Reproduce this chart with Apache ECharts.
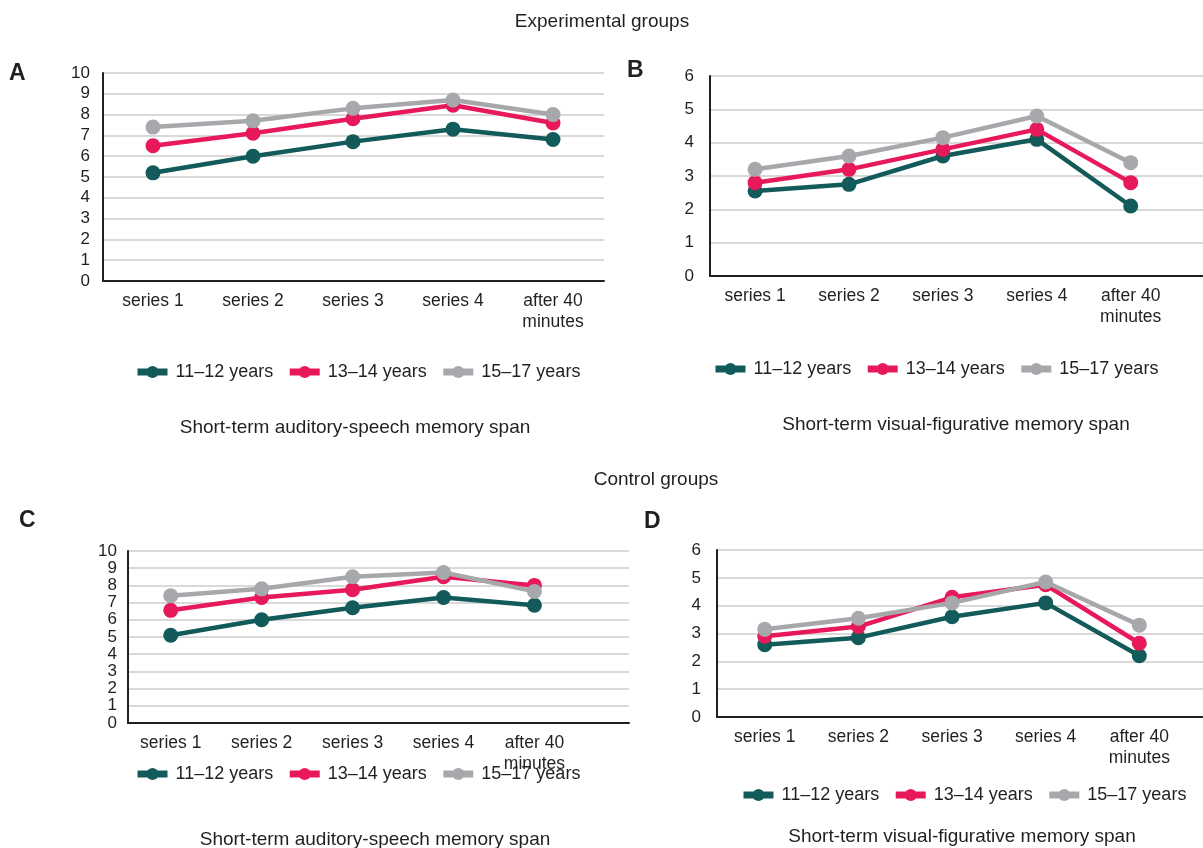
<!DOCTYPE html>
<html>
<head>
<meta charset="utf-8">
<script src="https://cdn.jsdelivr.net/npm/echarts@6/dist/echarts.min.js"></script>
<style>
  html, body { margin: 0; padding: 0; background: #fff; }
  #chart { width: 1203px; height: 848px; }
</style>
</head>
<body>
<div id="chart"></div>
<script>
// categories and groups
const categories = ['series 1', 'series 2', 'series 3', 'series 4', 'after 40\nminutes'];
const groups = ['11–12 years', '13–14 years', '15–17 years'];
const colors = ['#135a5a', '#e8195a', '#a7a8ab'];

// A: experimental, auditory-speech
const expAuditory1112 = [5.2, 6.0, 6.7, 7.3, 6.8];
const expAuditory1314 = [6.5, 7.1, 7.8, 8.45, 7.6];
const expAuditory1517 = [7.4, 7.7, 8.3, 8.7, 8.0];
// B: experimental, visual-figurative
const expVisual1112 = [2.55, 2.75, 3.6, 4.1, 2.1];
const expVisual1314 = [2.8, 3.2, 3.8, 4.4, 2.8];
const expVisual1517 = [3.2, 3.6, 4.15, 4.8, 3.4];
// C: control, auditory-speech
const ctrlAuditory1112 = [5.1, 6.0, 6.7, 7.3, 6.85];
const ctrlAuditory1314 = [6.55, 7.3, 7.75, 8.5, 8.0];
const ctrlAuditory1517 = [7.4, 7.8, 8.5, 8.75, 7.65];
// D: control, visual-figurative
const ctrlVisual1112 = [2.6, 2.85, 3.6, 4.1, 2.2];
const ctrlVisual1314 = [2.9, 3.25, 4.3, 4.75, 2.65];
const ctrlVisual1517 = [3.15, 3.55, 4.1, 4.85, 3.3];

const yMaxAuditory = 10;
const yMaxVisual = 6;

const FONT = '"Liberation Sans", Arial, sans-serif';
const TXT = '#231f20';

// x is a value axis so the gridlines can run past the last category
const panels = [
  { grid: { left: 103, top: 73, width: 501, height: 208 }, xmin: -0.5, xmax: 4.51, ymax: yMaxAuditory,
    data: [expAuditory1112, expAuditory1314, expAuditory1517], legendTop: 358, legendLeft: 129, yMargin: 13 },
  { grid: { left: 710, top: 76, width: 493, height: 200 }, xmin: -0.48, xmax: 4.77, ymax: yMaxVisual,
    data: [expVisual1112, expVisual1314, expVisual1517], legendTop: 355, legendLeft: 707, yMargin: 16 },
  { grid: { left: 128, top: 551, width: 501, height: 172 }, xmin: -0.47, xmax: 5.04, ymax: yMaxAuditory,
    data: [ctrlAuditory1112, ctrlAuditory1314, ctrlAuditory1517], legendTop: 760, legendLeft: 129, yMargin: 11 },
  { grid: { left: 717, top: 550, width: 486, height: 167 }, xmin: -0.51, xmax: 4.68, ymax: yMaxVisual,
    data: [ctrlVisual1112, ctrlVisual1314, ctrlVisual1517], legendTop: 781, legendLeft: 735, yMargin: 16 }
];

const grids = [], xAxes = [], yAxes = [], series = [], legends = [];
panels.forEach((p, i) => {
  grids.push(p.grid);
  xAxes.push({
    type: 'value', gridIndex: i, min: p.xmin, max: p.xmax,
    axisLine: { show: true, onZero: false, lineStyle: { color: TXT, width: 2 } },
    axisTick: { show: false },
    splitLine: { show: false },
    axisLabel: {
      customValues: categories.map((c, k) => k),
      formatter: v => categories[Math.round(v)] || '',
      color: TXT, fontFamily: FONT, fontSize: 17.5, lineHeight: 21, margin: 10
    }
  });
  yAxes.push({
    type: 'value', gridIndex: i, min: 0, max: p.ymax, interval: 1,
    axisLine: { show: true, onZero: false, lineStyle: { color: TXT, width: 2 } },
    axisTick: { show: false },
    splitLine: { show: true, lineStyle: { color: '#d9d9d9', width: 2 } },
    axisLabel: { color: TXT, fontFamily: FONT, fontSize: 17, margin: p.yMargin }
  });
  p.data.forEach((vals, g) => {
    series.push({
      name: groups[g], type: 'line', xAxisIndex: i, yAxisIndex: i,
      data: vals.map((v, k) => [k, v]),
      symbol: 'circle', symbolSize: 15,
      lineStyle: { width: 4.5, color: colors[g] },
      itemStyle: { color: colors[g] },
      z: 2 + g
    });
  });
  legends.push({
    data: groups, left: p.legendLeft, top: p.legendTop, orient: 'horizontal',
    itemWidth: 30, itemHeight: 15, itemGap: 13,
    lineStyle: { width: 7 },
    textStyle: { color: TXT, fontFamily: FONT, fontSize: 18, padding: [0, 0, 0, 3] }
  });
});

const titleStyle = { color: TXT, fontFamily: FONT, fontSize: 19, fontWeight: 'normal' };
const letterStyle = { color: TXT, fontFamily: FONT, fontSize: 23, fontWeight: 'bold' };

const chart = echarts.init(document.getElementById('chart'), null, { renderer: 'canvas' });
chart.setOption({
  backgroundColor: '#fff',
  animation: false,
  title: [
    { text: 'Experimental groups', left: 597, top: 7, textAlign: 'center', textStyle: titleStyle },
    { text: 'Control groups', left: 651, top: 465, textAlign: 'center', textStyle: titleStyle },
    { text: 'A', left: 4, top: 57, textStyle: letterStyle },
    { text: 'B', left: 622, top: 54, textStyle: letterStyle },
    { text: 'C', left: 14, top: 504, textStyle: letterStyle },
    { text: 'D', left: 639, top: 505, textStyle: letterStyle }
  ].concat([
    ['Short-term auditory-speech memory span', 350, 413],
    ['Short-term visual-figurative memory span', 951, 410],
    ['Short-term auditory-speech memory span', 370, 825],
    ['Short-term visual-figurative memory span', 957, 822]
  ].map(c => ({ text: c[0], left: c[1], top: c[2], textAlign: 'center', textStyle: titleStyle }))),
  legend: legends,
  grid: grids,
  xAxis: xAxes,
  yAxis: yAxes,
  series: series
});
</script>
</body>
</html>
